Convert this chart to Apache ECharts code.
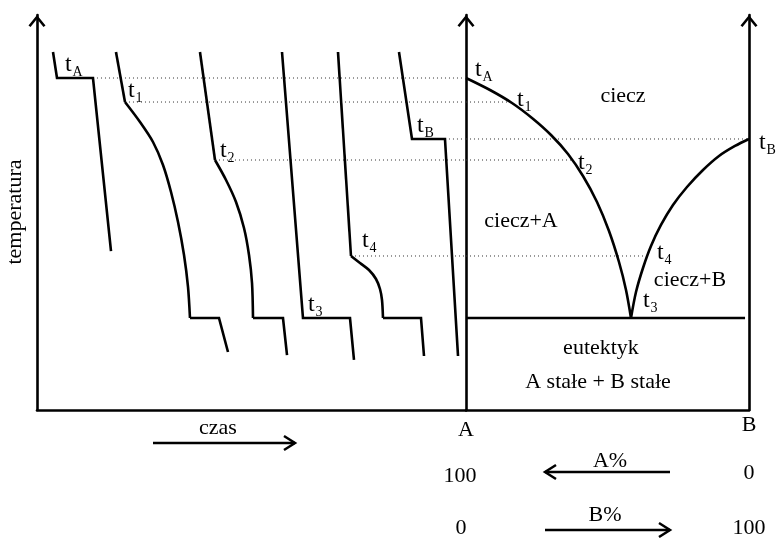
<!DOCTYPE html>
<html><head><meta charset="utf-8">
<script src="https://cdn.jsdelivr.net/npm/echarts@6/dist/echarts.min.js"></script>
<style>html,body{margin:0;padding:0;background:#fff}#c{width:776px;height:538px}</style>
</head><body><div id="c"></div>
<script>
// ---- data (time 0..100, B% 0..100, temperature 0..100) ----
const T_A = 84.05, T_1 = 77.97, T_B = 68.61, T_2 = 63.29, T_4 = 38.99, T_E = 23.29;

// cooling curves (time, temperature)
const coolA      = [[3.73,90.63],[4.66,T_A],[13.05,T_A],[17.25,40.25]];
const cool1Top   = [[18.41,90.63],[20.51,T_1]];
const cool1Curve = [[20.51,T_1],[24.01,72.91],[27.04,67.85],[29.37,62.03],[31.24,55.19],[32.87,47.59],[34.27,39.24],[35.20,31.14],[35.66,T_E]];
const cool1End   = [[35.66,T_E],[42.42,T_E],[44.52,14.68]];
const cool2Top   = [[37.99,90.63],[41.49,T_2]];
const cool2Curve = [[41.49,T_2],[44.06,58.23],[46.39,52.66],[48.25,46.08],[49.42,39.24],[50.12,32.15],[50.35,T_E]];
const cool2End   = [[50.35,T_E],[57.34,T_E],[58.28,13.92]];
const cool3      = [[57.11,90.63],[62.00,T_E],[72.96,T_E],[73.89,12.66]];
const cool4Top   = [[70.16,90.63],[73.19,T_4]];
const cool4Curve = [[73.19,T_4],[75.29,37.22],[77.39,35.44],[79.02,33.16],[79.95,30.63],[80.42,27.85],[80.65,T_E]];
const cool4End   = [[80.65,T_E],[89.51,T_E],[90.21,13.67]];
const coolB      = [[84.38,90.63],[87.41,T_B],[95.10,T_B],[98.14,13.67]];

// phase diagram (B%, temperature)
const liquidusA = [[0,T_A],[8.48,81.01],[16.25,77.72],[23.32,73.92],[30.04,69.62],[36.04,64.81],[41.34,59.24],[46.29,52.66],[50.53,45.32],[54.06,37.47],[56.54,30.38],[58.30,T_E]];
const liquidusB = [[58.30,T_E],[60.07,29.87],[62.54,35.95],[65.37,41.52],[68.90,46.84],[73.14,51.90],[78.09,56.46],[83.75,60.76],[89.40,64.30],[95.05,66.84],[100,T_B]];
const eutectic  = [[0,T_E],[98.6,T_E]];

// dotted guide lines: [temperature, start time, end B%]
const guides = [[T_A,13.05,0],[T_1,20.51,15.7],[T_2,41.49,37.3],[T_B,95.10,100],[T_4,73.19,64.1]];

// t labels: [grid, x, temperature, subscript]
const tLabels = [
  [0,6.53,85.57,'A'],[0,21.2,79.0,'1'],[0,42.66,63.8,'2'],[0,63.17,24.8,'3'],[0,75.76,41.0,'4'],[0,88.58,70.13,'B'],
  [1,3.18,84.3,'A'],[1,18.0,76.7,'1'],[1,39.6,60.76,'2'],[1,103.5,65.8,'B'],[1,67.5,37.97,'4'],[1,62.5,25.8,'3']
];
// region labels: [B%, temperature(baseline), text]
const regionLabels = [[55.48,77.72,'ciecz'],[19.43,46.08,'ciecz+A'],[79.15,31.14,'ciecz+B'],[47.70,13.92,'eutektyk'],[46.64,5.32,'A stałe + B stałe']];

// ---- chart ----
const FONT = '"Liberation Serif","Times New Roman",serif';
const chart = echarts.init(document.getElementById('c'), null, {renderer:'canvas'});
const ARROW = 'path://M8.5,0L17,10.5L15,12L8.5,4L2,12L0,10.5Z';
const axisLineStyle = {color:'#000', width:2.6};
function yAx(grid, pos){
  return {type:'value', gridIndex:grid, position:pos, min:0, max:100,
    axisLine:{show:true, onZero:false, lineStyle:axisLineStyle, symbol:['none',ARROW], symbolSize:[17,12], symbolOffset:[0,-6]},
    axisTick:{show:false}, axisLabel:{show:false}, splitLine:{show:false}};
}
function xAx(grid){
  return {type:'value', gridIndex:grid, min:0, max:100,
    axisLine:{show:true, onZero:false, lineStyle:axisLineStyle},
    axisTick:{show:false}, axisLabel:{show:false}, splitLine:{show:false}};
}
function ln(data, grid, yIdx, smooth){
  return {type:'line', data:data, xAxisIndex:grid, yAxisIndex:yIdx, showSymbol:false, symbol:'none',
    smooth:smooth?0.3:false, silent:true, z:3, clip:false,
    lineStyle:{color:'#000', width:2.6, join:'miter', cap:'butt'}};
}
function dot(data, grid, yIdx){
  return {type:'line', data:data, xAxisIndex:grid, yAxisIndex:yIdx, showSymbol:false, symbol:'none', silent:true, z:2,
    lineStyle:{color:'#333', width:1, type:[1,3]}};
}
const series = [];
guides.forEach(g=>{
  series.push(dot([[g[1],g[0]],[100,g[0]]],0,0));
  if (g[2]>0) series.push(dot([[0,g[0]],[g[2],g[0]]],1,1));
});
[coolA,cool1Top,cool1End,cool2Top,cool2End,cool3,cool4Top,cool4End,coolB].forEach(d=>series.push(ln(d,0,0,false)));
[cool1Curve,cool2Curve,cool4Curve].forEach(d=>series.push(ln(d,0,0,true)));
series.push(ln(liquidusA,1,1,true));
series.push(ln(liquidusB,1,1,true));
series.push(ln(eutectic,1,1,false));

chart.setOption({
  animation:false,
  backgroundColor:'#fff',
  grid:[
    {left:37, top:15, width:429, height:395, outerBoundsMode:'none', containLabel:false},
    {left:466, top:15, width:283, height:395, outerBoundsMode:'none', containLabel:false}
  ],
  xAxis:[xAx(0), xAx(1)],
  yAxis:[yAx(0,'left'), yAx(1,'left'), yAx(1,'right')],
  series:series
});

// ---- text & annotation graphics ----
function txt(x, baseline, str, size, align, extra){
  return Object.assign({type:'text', x:x, y:baseline - 0.32*size, silent:true, z:10,
    style:{text:str, font:size+'px '+FONT, fill:'#000', align:align||'left', verticalAlign:'middle',
      textAlign:align||'left', textVerticalAlign:'middle'}}, extra||{});
}
function pl(points){
  return {type:'polyline', silent:true, z:10, shape:{points:points}, style:{stroke:'#000', lineWidth:2.5, fill:null, lineJoin:'miter'}};
}
const g = [];
tLabels.forEach(l=>{
  const p = chart.convertToPixel({xAxisIndex:l[0], yAxisIndex:l[0]}, [l[1], l[2]]);
  g.push(txt(p[0], p[1], 't', 24, 'left'));
  g.push(txt(p[0]+7.5, p[1]+5, l[3], 14, 'left'));
});
regionLabels.forEach(l=>{
  const p = chart.convertToPixel({xAxisIndex:1, yAxisIndex:1}, [l[0], l[1]]);
  g.push(txt(p[0], p[1], l[2], 22, 'center'));
});
// axis end labels and composition scale
g.push(txt(466, 437, 'A', 22, 'center'));
g.push(txt(749, 432, 'B', 22, 'center'));
g.push(txt(218, 435, 'czas', 22, 'center'));
g.push(txt(460, 483, '100', 22, 'center'));
g.push(txt(461, 535, '0', 22, 'center'));
g.push(txt(749, 480, '0', 22, 'center'));
g.push(txt(749, 535, '100', 22, 'center'));
g.push(txt(610, 468, 'A%', 22, 'center'));
g.push(txt(605, 522, 'B%', 22, 'center'));
g.push({type:'text', x:15, y:212, rotation:Math.PI/2, silent:true, z:10,
  style:{text:'temperatura', font:'22px '+FONT, fill:'#000', align:'center', verticalAlign:'middle', textAlign:'center', textVerticalAlign:'middle'}});
// arrows
g.push(pl([[153,443],[295,443]]));
g.push(pl([[284,436],[295,443],[284,450]]));
g.push(pl([[545,472],[670,472]]));
g.push(pl([[556,465],[545,472],[556,479]]));
g.push(pl([[545,530],[670,530]]));
g.push(pl([[659,523],[670,530],[659,537]]));
chart.setOption({graphic:{elements:g}});
</script>
</body></html>
